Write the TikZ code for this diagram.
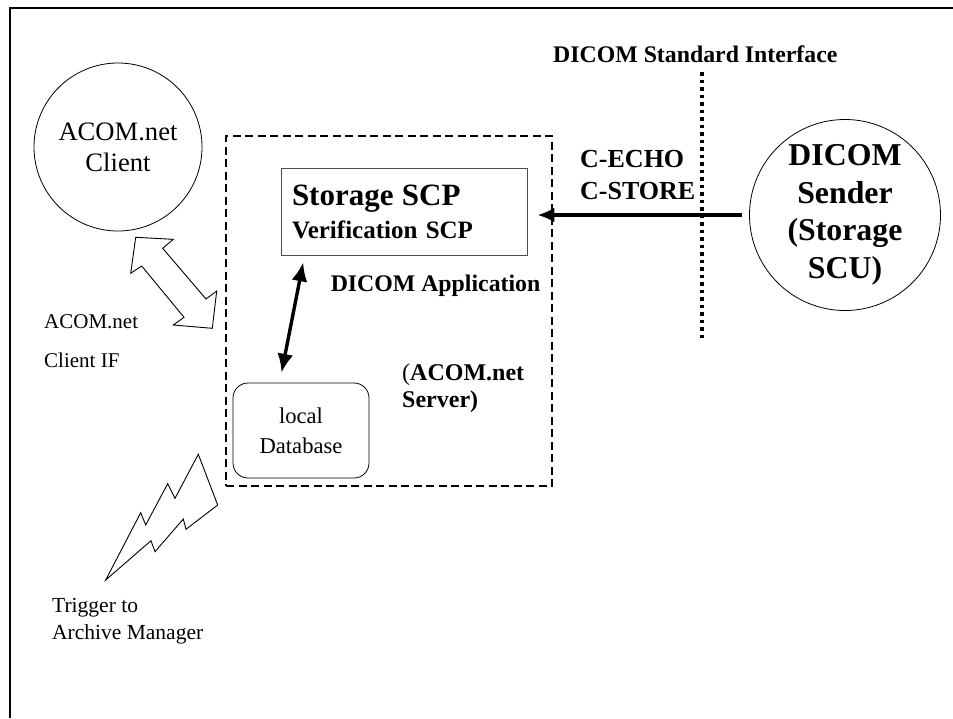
\documentclass[tikz,border=0pt]{standalone}
\usepackage{fontspec}
\setmainfont{Liberation Serif}
\usetikzlibrary{arrows.meta, positioning}

\begin{document}
\begin{tikzpicture} [x=1pt, y=-1pt,
		% define styles
		circlenodestyle/.style={
			% The shape:
			circle,
			% The border:
			draw=black,
			line width=0.8pt,
			% Text
			inner sep=0pt,
			align=center
		},
		boxnodestyle/.style={
			% The shape:
			rectangle,
			% The size:
			minimum width=246pt,
			minimum height=87pt,
			% The border:
			draw=black!70,
			line width=0.9pt,
			% Text
			inner xsep=11pt,
			inner ysep=0pt,
			text width=224pt,
			align=left,
			% Font
			font=\bfseries\fontsize{25}{33}\selectfont
		},
		dbnodestyle/.style={
			% The shape:
			rectangle,
			% The size:
			minimum width=136pt,
			minimum height=95pt,
			% The border:
			draw=black,
			line width=0.8pt,
			% Corners
			rounded corners=15pt,
			align=center,
			% Font
			font=\fontsize{22.6}{30}\selectfont
		},
		appnodestyle/.style={
			rectangle,
			minimum width=326pt,
			minimum height=350pt,
			draw=black,
			line width=2pt,
			dash pattern=on 8pt off 4.5pt
		},
		labelstyle/.style={
			inner sep=0pt,
			align=left
		},
		hollowstyle/.style={
			draw=black,
			line width=0.9pt,
			fill=white,
			line join=miter
		},
		arrowsend/.style={
			-{Latex[length=17pt,width=15pt]},
			% Thickness
			line width=4pt,
			black
		},
		arrowdb/.style={
			{Latex[length=19pt,width=16pt]}-{Latex[length=19pt,width=16pt]},
			% Thickness
			line width=3.4pt,
			black
		}]
		% end of style definition

		\useasboundingbox (0,0) rectangle (953,718);

		% frame
		\draw [line width=2.6pt] (953,7.8) -- (9.8,7.8) -- (9.8,718);

		% draw nodes
		\node (iApp) [appnodestyle] at (389,311) {};
		\node (iClient) [circlenodestyle, minimum size=168pt, font=\fontsize{26.6}{31}\selectfont] at (118,147) {ACOM.net\\Client};
		\node (iSender) [circlenodestyle, minimum size=191pt, font=\bfseries\fontsize{31.8}{37.5}\selectfont] at (845,215) {DICOM\\Sender\\(Storage\\SCU)};
		\node (iStore) [boxnodestyle] at (404,211.5) {{\fontsize{31}{33}\selectfont Storage SCP}\\Verification SCP};
		\node (iDatabase) [dbnodestyle] at (301,430.5) {local\\Database};

		% labels
		\node (iStdLabel) [labelstyle, anchor=north west, font=\bfseries\fontsize{23.8}{28}\selectfont] at (553,45.9) {DICOM Standard Interface};
		\node (iEcho) [labelstyle, anchor=north west, font=\bfseries\fontsize{26}{32}\selectfont] at (580,150.4) {C-ECHO\\C-STORE};
		\node (iAppLabel) [labelstyle, below right=19.6pt and 50pt of iStore.south west, font=\bfseries\fontsize{23.8}{28}\selectfont] {DICOM Application};
		\node (iServerLabel) [labelstyle, anchor=north west, font=\bfseries\fontsize{24}{27}\selectfont] at (402,363.5) {{\mdseries(}ACOM.net\\Server)};
		\node (iIfLabel) [labelstyle, anchor=north west, font=\fontsize{21}{39}\selectfont] at (44,314) {ACOM.net\\Client IF};
		\node (iTrigger) [labelstyle, anchor=north west, font=\fontsize{21.5}{27}\selectfont] at (52,598.3) {Trigger to\\Archive Manager};

		% standard interface line
		\coordinate (iIfTop) at (702,72);
		\coordinate (iIfBottom) at (702,340);
		\draw [line width=4.5pt, dash pattern=on 3.5pt off 4pt] (iIfTop) -- (iIfBottom);

		% connect nodes
		\draw [arrowsend, shorten <=7.5pt, shorten >=10pt] (iSender.west) -- (iSender.west -| iStore.east);
		\draw [arrowdb, shorten <=7pt, shorten >=10pt] ([xshift=24pt]iStore.south west) -- ([xshift=47pt]iDatabase.north west);

		% client interface (hollow double arrow)
		\draw [hollowstyle] (135.7,237.3) -- (173.3,239.3) -- (162.7,248.3) -- (206,299) -- (216.7,291) -- (212.3,328.3) -- (173.3,325) -- (184,317.3) -- (141.7,266) -- (130.7,273.3) -- cycle;

		% trigger (lightning)
		\draw [hollowstyle] (198.3,454.3) -- (217.7,505) -- (186,529.3) -- (183.3,519) -- (155,551.7) -- (151,540.7) -- (105.7,580) -- (140.7,512.7) -- (145.7,525) -- (167.7,483.7) -- (175,498.3) -- cycle;
	\end{tikzpicture}
\end{document}
